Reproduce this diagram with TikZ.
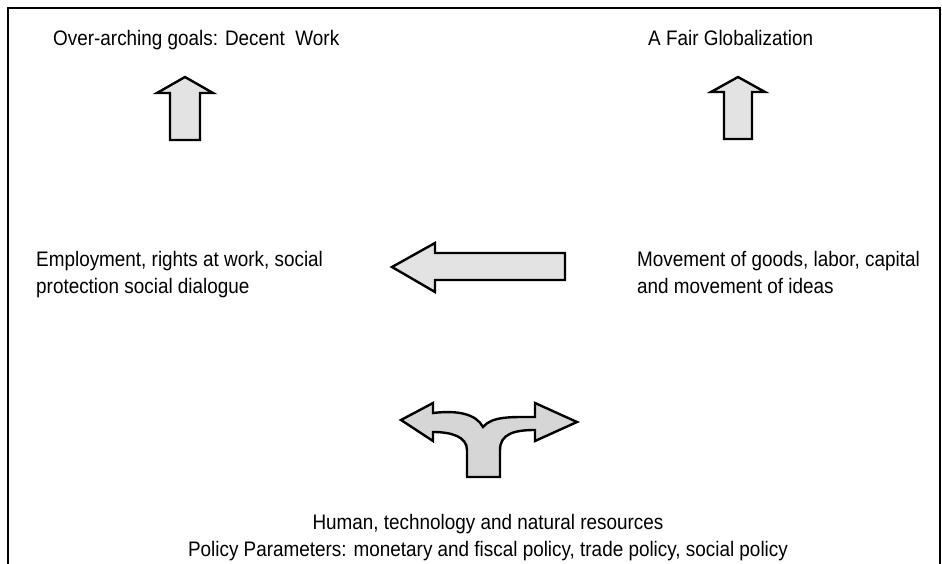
\documentclass[tikz,border=0pt]{standalone}
\usepackage{fontspec}
\setmainfont{Liberation Sans}[FakeStretch=0.9]
\tikzstyle{LabelNode}=[anchor=base west, inner sep=0pt, align=left, font=\fontsize{21}{27}\selectfont]
\tikzstyle{BlockArrow}=[draw=black, line width=2.4pt, fill=gray!22, line join=miter]
\tikzstyle{ForkArrow}=[BlockArrow, fill=gray!32]
\tikzstyle{Frame}=[draw=black, line width=1.2pt]

\begin{document}
\begin{tikzpicture}[x=1pt,y=-1pt]
\useasboundingbox (0,0) rectangle (942,564);
\draw[Frame] (8,564) -- (8,8) -- (940,8) -- (940,564);

% texts
\node[LabelNode](Goals) at (53,46) {Over-arching goals: Decent\ \ Work};
\node[LabelNode](Fair) at (648,46) {A Fair Globalization};
\node[LabelNode](Work) at (36,293) {Employment, rights at work, social\\protection social dialogue};
\node[LabelNode](Move) at (637,293) {Movement of goods, labor, capital\\and movement of ideas};
\node[LabelNode, anchor=base, align=center](Res) at (488,556) {Human, technology and natural resources\\Policy Parameters: monetary and fiscal policy, trade policy, social policy};

% arrows
\draw[BlockArrow] (185,77) -- (213,93) -- (200,93) -- (200,140) -- (170,140) -- (170,93) -- (157,93) -- cycle;
\draw[BlockArrow] (738,77) -- (765,92) -- (752,92) -- (752,139) -- (724,139) -- (724,92) -- (711,92) -- cycle;
\draw[BlockArrow] (392,267) -- (435,243) -- (435,253) -- (565,253) -- (565,280) -- (435,280) -- (435,292) -- cycle;
\draw[ForkArrow] (401,420) -- (433,403) -- (433,413) .. controls (458,410) and (476,414) .. (483,427)
  .. controls (492,416) and (512,417) .. (535,417) -- (535,403) -- (577,422) -- (535,441) -- (535,430)
  .. controls (514,430) and (500,434) .. (500,450) -- (500,477) -- (467,477) -- (467,450)
  .. controls (467,437) and (452,432) .. (433,432) -- (433,441) -- cycle;
\end{tikzpicture}
\end{document}
